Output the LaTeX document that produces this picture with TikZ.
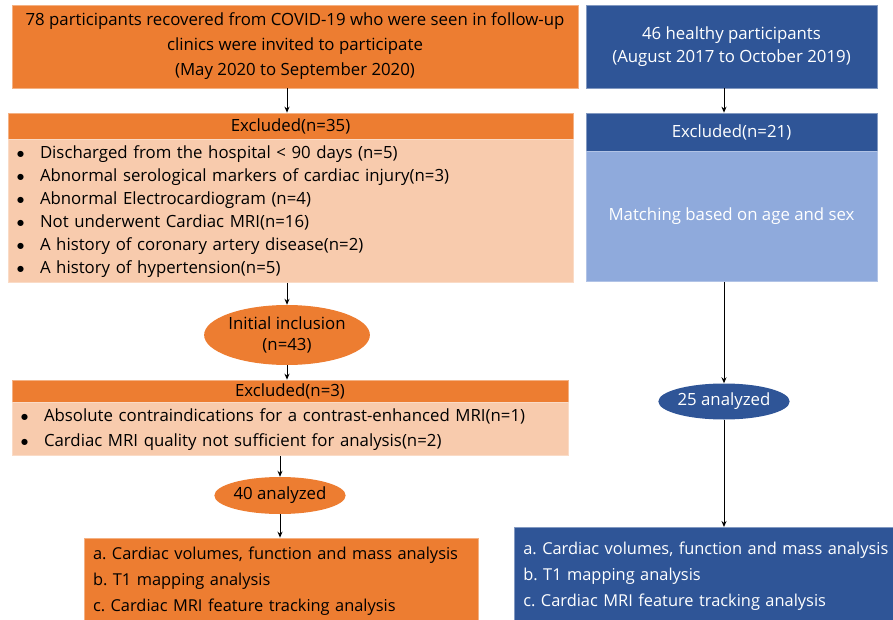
\documentclass[tikz,border=0pt]{standalone}
\usepackage{fontspec}
\setmainfont{Open Sans}
\newfontfamily\dotfont{DejaVu Sans}
\usetikzlibrary{shapes.geometric,arrows.meta}
\definecolor{orangefill}{HTML}{ED7D31}
\definecolor{peachfill}{HTML}{F8CBAD}
\definecolor{bluefill}{HTML}{2F5597}
\definecolor{lightbluefill}{HTML}{8FAADC}
\newcommand{\bulletitem}[1]{\makebox[23pt][l]{\raisebox{1.5pt}{\dotfont\fontsize{8}{8}\selectfont ●}}#1}
\frenchspacing
\begin{document}
\begin{tikzpicture}[x=1pt, y=-1pt,
    font=\fontsize{16.8}{23}\selectfont,
    orangebox/.style={draw=orangefill!60!white, fill=orangefill, line width=0.6pt, inner sep=0pt},
    peachbox/.style={draw=peachfill!70!white, fill=peachfill, line width=0.6pt, inner xsep=9pt, inner ysep=0pt, align=left},
    bluebox/.style={draw=bluefill!60!white, fill=bluefill, text=white, line width=0.6pt, inner sep=0pt},
    lightbluebox/.style={draw=lightbluefill!70!white, fill=lightbluefill, text=white, line width=0.6pt, inner sep=0pt},
    orangeoval/.style={ellipse, fill=orangefill, inner sep=0pt, align=center},
    blueoval/.style={ellipse, fill=bluefill, text=white, inner sep=0pt},
    flow/.style={-{Stealth[length=6pt, width=5pt]}, line width=1pt}]

    % fix the page size
    \useasboundingbox (0,0) rectangle (893,620);

    % draw the patient column
    \node[orangebox, minimum width=566, minimum height=83, align=center, font=\fontsize{16.8}{25}\selectfont] (covid) at (295,46.5)
        {78 participants recovered from COVID-19 who were seen in follow-up\\clinics were invited to participate\\(May 2020 to September 2020)};
    \node[orangebox, minimum width=565, minimum height=26] (excla) at (290.5,126) {Excluded(n=35)};
    \node[peachbox, text width=547, minimum height=143, anchor=north] (exclalist) at (excla.south)
        {\bulletitem{Discharged from the hospital < 90 days (n=5)}\\
         \bulletitem{Abnormal serological markers of cardiac injury(n=3)}\\
         \bulletitem{Abnormal Electrocardiogram (n=4)}\\
         \bulletitem{Not underwent Cardiac MRI(n=16)}\\
         \bulletitem{A history of coronary artery disease(n=2)}\\
         \bulletitem{A history of hypertension(n=5)}};
    \node[orangeoval, minimum width=163, minimum height=60, font=\fontsize{16.8}{21}\selectfont] (incl) at (287,335) {Initial inclusion\\(n=43)};
    \node[orangebox, minimum width=556, minimum height=22] (exclb) at (290,391) {Excluded(n=3)};
    \node[peachbox, text width=538, minimum height=53, anchor=north, font=\fontsize{16.8}{25}\selectfont] (exclblist) at (exclb.south)
        {\bulletitem{Absolute contraindications for a contrast-enhanced MRI(n=1)}\\
         \bulletitem{Cardiac MRI quality not sufficient for analysis(n=2)}};
    \node[orangeoval, minimum width=124, minimum height=37] (anaa) at (280,495.5) {40 analyzed};
    \node[orangebox, minimum width=394, minimum height=86, text width=376, inner xsep=9pt, align=left, font=\fontsize{16.4}{26}\selectfont] (resulta) at (281,581)
        {a. Cardiac volumes, function and mass analysis\\b. T1 mapping analysis\\c. Cardiac MRI feature tracking analysis};

    % draw the healthy column
    \node[bluebox, minimum width=291, minimum height=83] (healthy) at (731.5,46.5)
        {\raisebox{6pt}{\begin{tabular}{@{}c@{}}46 healthy participants\\(August 2017 to October 2019)\end{tabular}}};
    \node[bluebox, minimum width=291, minimum height=38] (exclc) at (731.5,132) {Excluded(n=21)};
    \node[lightbluebox, minimum width=291, minimum height=130, anchor=north] (match) at (exclc.south) {Matching based on age and sex};
    \node[blueoval, minimum width=124, minimum height=36] (anab) at (724,401.5) {25 analyzed};
    \node[bluebox, minimum height=97, text width=380, inner xsep=9pt, align=left, anchor=north west, font=\fontsize{16.4}{26}\selectfont] (resultb) at (514,527)
        {a. Cardiac volumes, function and mass analysis\\b. T1 mapping analysis\\c. Cardiac MRI feature tracking analysis};

    % draw the arrows
    \draw[flow] (covid.south -| incl) -- (excla.north -| incl);
    \draw[flow] (exclalist.south -| incl) -- (incl.north);
    \draw[flow] (incl.south) -- (exclb.north -| incl);
    \draw[flow] (exclblist.south -| anaa) -- (anaa.north);
    \draw[flow] (anaa.south) -- (resulta.north -| anaa);
    \draw[flow] (healthy.south -| anab) -- (exclc.north -| anab);
    \draw[flow] (match.south -| anab) -- (anab.north);
    \draw[flow] (anab.south) -- (resultb.north -| anab);
\end{tikzpicture}
\end{document}
